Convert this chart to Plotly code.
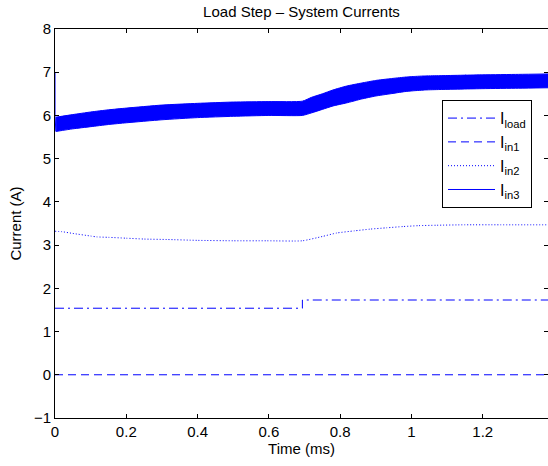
import plotly.graph_objects as go

# ---- data ----
t_load = [0.0, 0.694, 0.694, 1.383]
i_load = [1.54, 1.54, 1.73, 1.73]

t_in1 = [0.0, 1.383]
i_in1 = [0.0, 0.0]

t_in2 = [0.0, 0.02, 0.05, 0.1, 0.117, 0.15, 0.2, 0.25, 0.313, 0.4, 0.5, 0.594, 0.694,
         0.75, 0.79, 0.84, 0.884, 0.93, 0.977, 1.02, 1.071, 1.15, 1.25, 1.383]
i_in2 = [3.32, 3.31, 3.27, 3.21, 3.19, 3.18, 3.16, 3.14, 3.13, 3.11, 3.10, 3.10, 3.10,
         3.20, 3.28, 3.33, 3.37, 3.40, 3.43, 3.45, 3.46, 3.47, 3.47, 3.47]

# Iin3: switching ripple band (upper / lower envelope) plus initial spike
t_in3 = [0.003, 0.05, 0.1, 0.15, 0.2, 0.3, 0.4, 0.5, 0.6, 0.694,
         0.72, 0.75, 0.78, 0.818, 0.86, 0.9, 0.94, 0.98, 1.005, 1.04,
         1.08, 1.2, 1.3, 1.383]
i_in3_hi = [5.96, 6.02, 6.08, 6.13, 6.17, 6.24, 6.28, 6.31, 6.32, 6.33,
            6.42, 6.50, 6.59, 6.68, 6.75, 6.81, 6.85, 6.885, 6.90, 6.915,
            6.92, 6.94, 6.95, 6.96]
i_in3_lo = [5.63, 5.69, 5.74, 5.79, 5.83, 5.90, 5.95, 5.98, 6.00, 6.00,
            6.06, 6.14, 6.22, 6.29, 6.38, 6.45, 6.50, 6.55, 6.57, 6.59,
            6.60, 6.62, 6.63, 6.64]
t_spike = [0.0, 0.0, 0.003]
i_spike = [7.0, 5.63, 5.96]

x_ticks = [0, 0.2, 0.4, 0.6, 0.8, 1.0, 1.2]
y_ticks = [-1, 0, 1, 2, 3, 4, 5, 6, 7, 8]

BLUE = "#0000ff"
FONT = "Liberation Sans, Arial, Helvetica, sans-serif"

fig = go.Figure()

fig.add_trace(go.Scatter(x=t_load, y=i_load, mode="lines", name="I<sub>load</sub>",
                         legendrank=1,
                         line=dict(color=BLUE, width=1, dash="9px,4px,2px,4px")))
fig.add_trace(go.Scatter(x=t_in1, y=i_in1, mode="lines", name="I<sub>in1</sub>",
                         legendrank=2,
                         line=dict(color=BLUE, width=1, dash="8px,5px")))
fig.add_trace(go.Scatter(x=t_in2, y=i_in2, mode="lines", name="I<sub>in2</sub>",
                         legendrank=3,
                         line=dict(color=BLUE, width=1, dash="1px,2px",
                                   shape="spline", smoothing=0.5)))
fig.add_trace(go.Scatter(x=t_in3, y=i_in3_lo, mode="lines", showlegend=False,
                         line=dict(color=BLUE, width=1, shape="spline", smoothing=0.5),
                         hoverinfo="skip"))
fig.add_trace(go.Scatter(x=t_in3, y=i_in3_hi, mode="lines", showlegend=False,
                         fill="tonexty", fillcolor=BLUE,
                         line=dict(color=BLUE, width=1, shape="spline", smoothing=0.5)))
fig.add_trace(go.Scatter(x=t_spike, y=i_spike, mode="lines", name="I<sub>in3</sub>",
                         legendrank=4,
                         line=dict(color=BLUE, width=1)))

axis_common = dict(
    showline=True, linecolor="black", linewidth=1, mirror="ticks",
    ticks="inside", ticklen=4, tickwidth=1, tickcolor="black",
    showgrid=False, zeroline=False,
    tickfont=dict(family=FONT, size=15, color="black"),
)

fig.update_layout(
    width=548, height=466,
    margin=dict(l=55, r=0, t=29, b=48),
    paper_bgcolor="white", plot_bgcolor="white",
    font=dict(family=FONT, size=15, color="black"),
    title=dict(text="Load Step \u2013 System Currents", x=0.5, xref="paper",
               y=1 - 12 / 466, yref="container", yanchor="middle",
               font=dict(family=FONT, size=15, color="black")),
    xaxis=dict(range=[0, 1.383], tickvals=x_ticks,
               ticktext=[f"{v:g}" for v in x_ticks],
               title=dict(text="Time (ms)", standoff=4,
                          font=dict(family=FONT, size=15)),
               **axis_common),
    yaxis=dict(range=[-1, 8], tickvals=y_ticks,
               ticktext=[("\u2212" + str(abs(v))) if v < 0 else str(v) for v in y_ticks],
               title=dict(text="Current (A)", standoff=8,
                          font=dict(family=FONT, size=15)),
               **axis_common),
    legend=dict(x=0.785, y=0.817, xanchor="left", yanchor="top",
                bgcolor="white", bordercolor="black", borderwidth=1,
                font=dict(family=FONT, size=16, color="black"),
                traceorder="normal", itemwidth=47),
    showlegend=True,
)

fig.write_html("out.html")
